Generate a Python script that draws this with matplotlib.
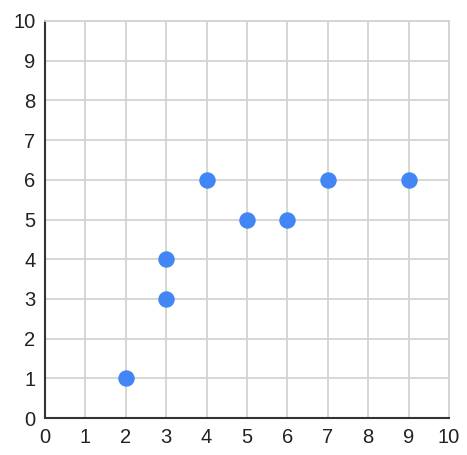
import matplotlib
matplotlib.use('Agg')
import matplotlib.pyplot as plt

# scatter points
x_vals = [2, 3, 3, 4, 5, 6, 7, 9]
y_vals = [1, 3, 4, 6, 5, 5, 6, 6]
ticks = list(range(0, 11))

plt.rcParams['font.family'] = ['Liberation Sans', 'DejaVu Sans']

fig = plt.figure(figsize=(4.67, 4.55), dpi=100)
ax = fig.add_axes([45/467, 1 - 418/455, 404/467, 397/455])

ax.scatter(x_vals, y_vals, s=140, color='#4285F4', zorder=3, linewidths=0)

ax.set_xlim(0, 10)
ax.set_ylim(0, 10)
ax.set_xticks(ticks)
ax.set_yticks(ticks)
ax.tick_params(length=0, labelsize=14.5, colors='#222222', pad=7)
ax.grid(True, color='#d3d3d3', linewidth=1.3)
ax.set_axisbelow(True)

for side in ['top', 'right']:
    ax.spines[side].set_color('#d3d3d3')
    ax.spines[side].set_linewidth(1.3)
for side in ['left', 'bottom']:
    ax.spines[side].set_color('#333333')
    ax.spines[side].set_linewidth(1.5)

fig.savefig('out.png', dpi=100)
